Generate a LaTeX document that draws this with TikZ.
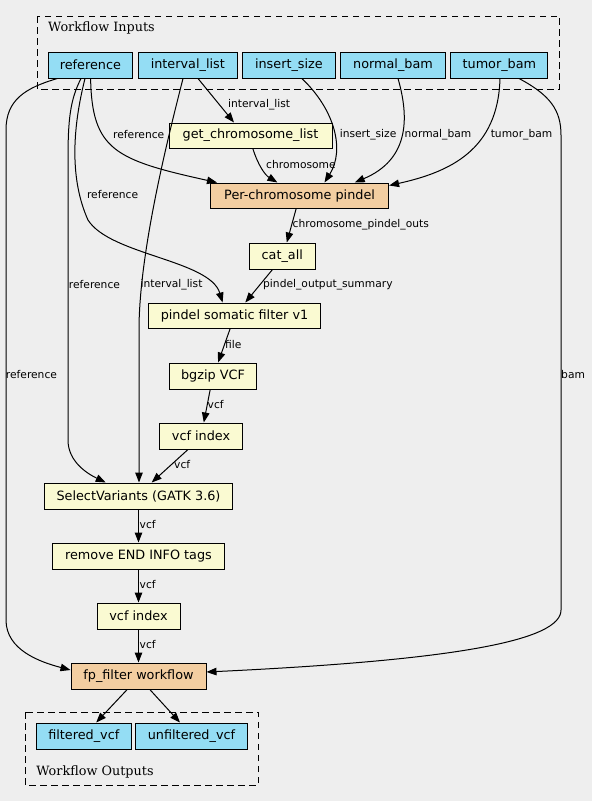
\documentclass[tikz,border=0pt]{standalone}
\usepackage{fontspec}
\setmainfont{DejaVu Sans}
\newfontfamily\clusterfont{DejaVu Serif}
\usetikzlibrary{arrows.meta}
\definecolor{bgc}{HTML}{EEEEEE}
\definecolor{inblue}{HTML}{94DDF4}
\definecolor{stepyel}{HTML}{FAFAD2}
\definecolor{suborg}{HTML}{F3CEA1}
\tikzset{
  box/.style={draw=black, line width=1pt, rectangle, inner sep=0pt, minimum height=26pt,
     font=\fontsize{12.8}{15}\selectfont},
  io/.style={box, fill=inblue},
  tool/.style={box, fill=stepyel},
  sub/.style={box, fill=suborg},
  cluster/.style={draw=black, line width=1pt, dash pattern=on 6.5pt off 4.5pt},
  clabel/.style={font=\clusterfont\fontsize{12.8}{15}\selectfont, anchor=west, inner sep=0pt},
  elabel/.style={font=\fontsize{10.7}{12}\selectfont, anchor=west, inner sep=0pt},
  edge/.style={line width=1pt, -{Triangle[length=10pt,width=7.5pt]}},
}
\begin{document}
\begin{tikzpicture}[x=1pt,y=-1pt]
\fill[bgc] (0,0) rectangle (592,801);
\useasboundingbox (0,0) rectangle (592,801);
% clusters
\draw[cluster] (37,16) rectangle (559.6,89);
\node[clabel] (inlbl) at (48,28) {Workflow Inputs};
\draw[cluster] (25.3,712) rectangle (258.5,785);
\node[clabel] (outlbl) at (36.2,772) {Workflow Outputs};
% nodes
\node[io, minimum width=84.2pt] (ref) at (90.4,65) {reference};
\node[io, minimum width=98.5pt] (ivl) at (187.8,65) {interval\_list};
\node[io, minimum width=92.5pt] (ins) at (288.9,65) {insert\_size};
\node[io, minimum width=104.5pt] (nbam) at (393,65) {normal\_bam};
\node[io, minimum width=97pt] (tbam) at (499.4,65) {tumor\_bam};
\node[tool, minimum width=163pt, minimum height=25pt] (gcl) at (250.5,135.5) {get\_chromosome\_list};
\node[sub, minimum width=178pt, minimum height=25pt] (pcp) at (299.6,195.5) {Per-chromosome pindel};
\node[tool, minimum width=65.7pt] (cat) at (282.3,256) {cat\_all};
\node[tool, minimum width=172.5pt, minimum height=25pt] (psf) at (234.5,315.5) {pindel somatic filter v1};
\node[tool, minimum width=86.4pt] (bgz) at (213,376) {bgzip VCF};
\node[tool, minimum width=83pt] (vi1) at (201.1,436) {vcf index};
\node[tool, minimum width=188pt] (sv) at (138.5,496) {SelectVariants (GATK 3.6)};
\node[tool, minimum width=172pt] (rem) at (138.5,556) {remove END INFO tags};
\node[tool, minimum width=83pt] (vi2) at (138.5,616) {vcf index};
\node[sub, minimum width=135pt] (fp) at (138.5,676) {fp\_filter workflow};
\node[io, minimum width=95pt] (fvcf) at (83.8,736) {filtered\_vcf};
\node[io, minimum width=111.4pt] (ufvcf) at (191.5,736) {unfiltered\_vcf};
% edges from reference
\draw[edge] ([xshift=-33pt]ref.south) .. controls (25,88) and (6,100) .. (6,130) -- (6,620)
   .. controls (6,650) and (40,662) .. ([yshift=6pt]fp.west);
\node[elabel] (l1) at (5.7,375) {reference};
\draw[edge] ([xshift=-9.4pt]ref.south) .. controls (70,100) and (68,120) .. (68,160) -- (68,440)
   .. controls (68,462) and (88,474) .. ([xshift=-32.8pt]sv.north);
\node[elabel] (l2) at (68.7,285) {reference};
\draw[edge] ([xshift=-5.4pt]ref.south) .. controls (72,130) and (70,180) .. (88,220)
   .. controls (110,255) and (210,260) .. ([xshift=-11.9pt]psf.north);
\node[elabel] (l3) at (86.8,194.3) {reference};
\draw[edge] ([xshift=0.2pt]ref.south) .. controls (92,150) and (115,160) .. ([xshift=-82.6pt]pcp.north);
\node[elabel] (l4) at (113,135) {reference};
% interval_list
\draw[edge] ([xshift=10.2pt]ivl.south) -- ([xshift=-16.5pt]gcl.north);
\node[elabel] (l5) at (228,105) {interval\_list};
\draw[edge] ([xshift=-4.8pt]ivl.south) .. controls (170,130) and (139,250) .. (139,330) -- ([xshift=0.5pt]sv.north);
\node[elabel] (l6) at (140.4,285) {interval\_list};
% other inputs to pindel
\draw[edge] ([xshift=13pt]ins.south) .. controls (335,110) and (345,150) .. ([xshift=24.9pt]pcp.north);
\node[elabel] (l7) at (339.6,135) {insert\_size};
\draw[edge] ([xshift=5pt]nbam.south) .. controls (410,120) and (408,160) .. ([xshift=55.1pt]pcp.north);
\node[elabel] (l8) at (404.5,135) {normal\_bam};
\draw[edge] ([xshift=0.6pt]tbam.south) .. controls (498,150) and (450,172) .. ([yshift=-3pt]pcp.north east);
\node[elabel] (l9) at (490.6,135) {tumor\_bam};
\draw[edge] ([xshift=19.6pt]tbam.south) .. controls (550,95) and (561,110) .. (561,135) -- (561,610)
   .. controls (561,640) and (460,660) .. ([yshift=4pt]fp.east);
\node[elabel] (l10) at (561,375) {bam};
% chain
\draw[edge] ([xshift=2.3pt]gcl.south) .. controls (258,165) and (265,175) .. ([xshift=-22.2pt]pcp.north);
\node[elabel] (l11) at (266,165) {chromosome};
\draw[edge] ([xshift=-3.4pt]pcp.south) -- ([xshift=4.5pt]cat.north);
\node[elabel] (l12) at (292.5,225) {chromosome\_pindel\_outs};
\draw[edge] ([xshift=-9.8pt]cat.south) -- ([xshift=10.8pt]psf.north);
\node[elabel] (l13) at (263,285) {pindel\_output\_summary};
\draw[edge] ([xshift=-4.3pt]psf.south) -- ([xshift=5.1pt]bgz.north);
\node[elabel] (l14) at (225,345) {file};
\draw[edge] ([xshift=-2.8pt]bgz.south) -- ([xshift=2.7pt]vi1.north);
\node[elabel] (l15) at (207.5,405) {vcf};
\draw[edge] ([xshift=-13.1pt]vi1.south) -- ([xshift=13.2pt]sv.north);
\node[elabel] (l16) at (174,465) {vcf};
\draw[edge] (sv.south) -- (rem.north);
\node[elabel] (l17) at (139.5,525) {vcf};
\draw[edge] (rem.south) -- (vi2.north);
\node[elabel] (l18) at (139.5,585) {vcf};
\draw[edge] (vi2.south) -- (fp.north);
\node[elabel] (l19) at (139.5,645) {vcf};
\draw[edge] ([xshift=-11.3pt]fp.south) -- ([xshift=12.4pt]fvcf.north);
\draw[edge] ([xshift=11.3pt]fp.south) -- ([xshift=-11.5pt]ufvcf.north);
\end{tikzpicture}
\end{document}
